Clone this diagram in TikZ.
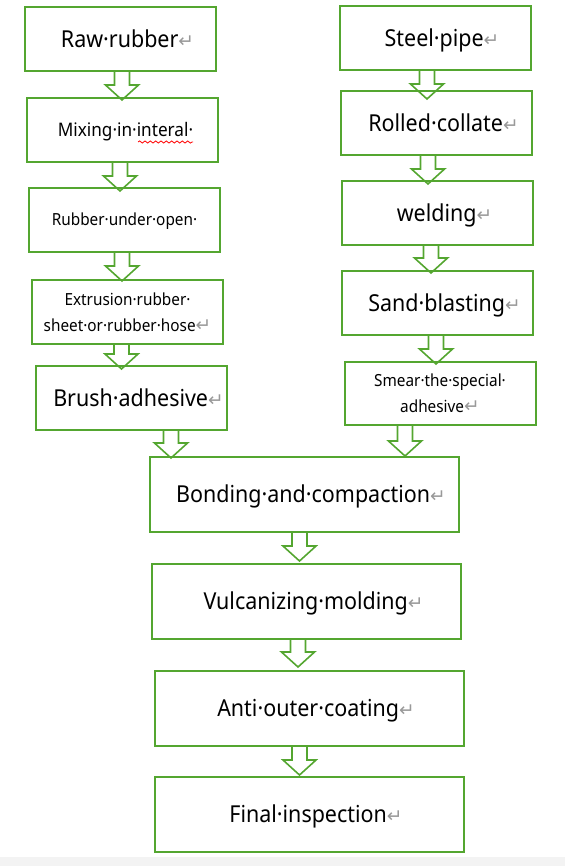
\documentclass[tikz,border=0pt]{standalone}
\usepackage{fontspec}
\setmainfont{Noto Sans}[FakeStretch=0.92]
\newfontfamily\retfont{DejaVu Sans}
\usepackage{xcolor}
\usepackage{tikz}
\usetikzlibrary{calc,decorations.pathmorphing}
\definecolor{boxgreen}{RGB}{84,166,48}
\definecolor{bargray}{RGB}{243,243,243}
\newcommand{\ret}{{\retfont\fontsize{14pt}{14pt}\selectfont\color{gray!80}\char"21B5}}
% hollow block arrow: [tip overlap]{x}{from}{to}
\newcommand{\flowdown}[4][1]{%
  \pgfmathsetmacro{\fdo}{(#1)*0.75}%
  \draw[flowarrow] let \p1=(#2,0 |- #3.south), \p2=(#2,0 |- #4.north) in
    ({\x1-5.6pt},\y1) -- ({\x1-5.6pt},{\y2-\fdo pt+11.25pt}) -- ({\x1-12.4pt},{\y2-\fdo pt+11.25pt})
    -- (\x1,{\y2-\fdo pt}) -- ({\x1+12.4pt},{\y2-\fdo pt+11.25pt})
    -- ({\x1+5.6pt},{\y2-\fdo pt+11.25pt}) -- ({\x1+5.6pt},\y1);}
\tikzset{
  stepbox/.style={draw=boxgreen, line width=1.5pt, inner sep=0pt,
    minimum width=191*0.75pt, minimum height=64*0.75pt},
  widebox/.style={stepbox, minimum width=309*0.75pt, minimum height=75*0.75pt},
  pushr/.style={execute at begin node={\hspace*{#1}}},
  pushr/.default=10.5pt,
  bigtext/.style={font=\fontsize{17.5pt}{21pt}\selectfont, pushr, text height=12.5pt, text depth=0pt},
  midtext/.style={font=\fontsize{14pt}{17pt}\selectfont, pushr=4.5pt, text height=10pt, text depth=0pt},
  smalltext/.style={font=\fontsize{12.5pt}{19.5pt}\selectfont},
  twolines/.style={smalltext, align=center, yshift=-1.5pt},
  flowarrow/.style={draw=boxgreen, line width=1.2pt, line join=miter}
}
\begin{document}
\begin{tikzpicture}[x=0.75pt, y=-0.75pt]
  \useasboundingbox (0,0) rectangle (565,866);
  \fill[bargray] (0,857) rectangle (565,866);
  % rubber branch
  \node[stepbox, bigtext] (raw) at (120.5,39) {Raw·rubber\ret};
  \node[stepbox, midtext] (mix) at (122.5,130) {Mixing·in·interal·};
  \node[stepbox, smalltext, text height=8.9pt, text depth=0pt] (open) at (124.5,220) {Rubber·under·open·};
  \node[stepbox, twolines] (extr) at (127.5,310) {Extrusion·rubber·\\sheet·or·rubber·hose\ret};
  \node[stepbox, bigtext] (brush) at (131.5,398) {Brush·adhesive\ret};
  \draw[red, line width=0.6pt, decorate, decoration={snake, amplitude=0.8pt, segment length=4pt}] (138,142) -- (193,142);
  % steel branch
  \node[stepbox, bigtext] (pipe) at (435,38) {Steel·pipe\ret};
  \node[stepbox, bigtext] (roll) at (436.5,123) {Rolled·collate\ret};
  \node[stepbox, bigtext] (weld) at (437.5,213) {welding\ret};
  \node[stepbox, bigtext] (sand) at (437.5,303) {Sand·blasting\ret};
  \node[stepbox, twolines, minimum height=63*0.75pt] (smear) at (440,391.5) {Smear·the·special·\\adhesive\ret};
  % common line
  \node[widebox, bigtext] (bond) at (304,494.5) {Bonding·and·compaction\ret};
  \node[widebox, bigtext] (vulc) at (306.5,601.5) {Vulcanizing·molding\ret};
  \node[widebox, bigtext] (anti) at (309,708.5) {Anti·outer·coating\ret};
  \node[widebox, bigtext] (final) at (309,814.5) {Final·inspection\ret};
  % arrows
  \flowdown[3]{122}{raw}{mix}
  \flowdown[4]{120}{mix}{open}
  \flowdown[2]{122}{open}{extr}
  \flowdown[4]{121.5}{extr}{brush}
  \flowdown[2]{171}{brush}{bond}
  \flowdown[9]{427}{pipe}{roll}
  \flowdown[4]{428}{roll}{weld}
  \flowdown[3]{431}{weld}{sand}
  \flowdown[3]{436}{sand}{smear}
  \flowdown[0]{405}{smear}{bond}
  \flowdown[-2]{299.5}{bond}{vulc}
  \flowdown[-3]{298}{vulc}{anti}
  \flowdown[-1]{299.5}{anti}{final}
\end{tikzpicture}
\end{document}
